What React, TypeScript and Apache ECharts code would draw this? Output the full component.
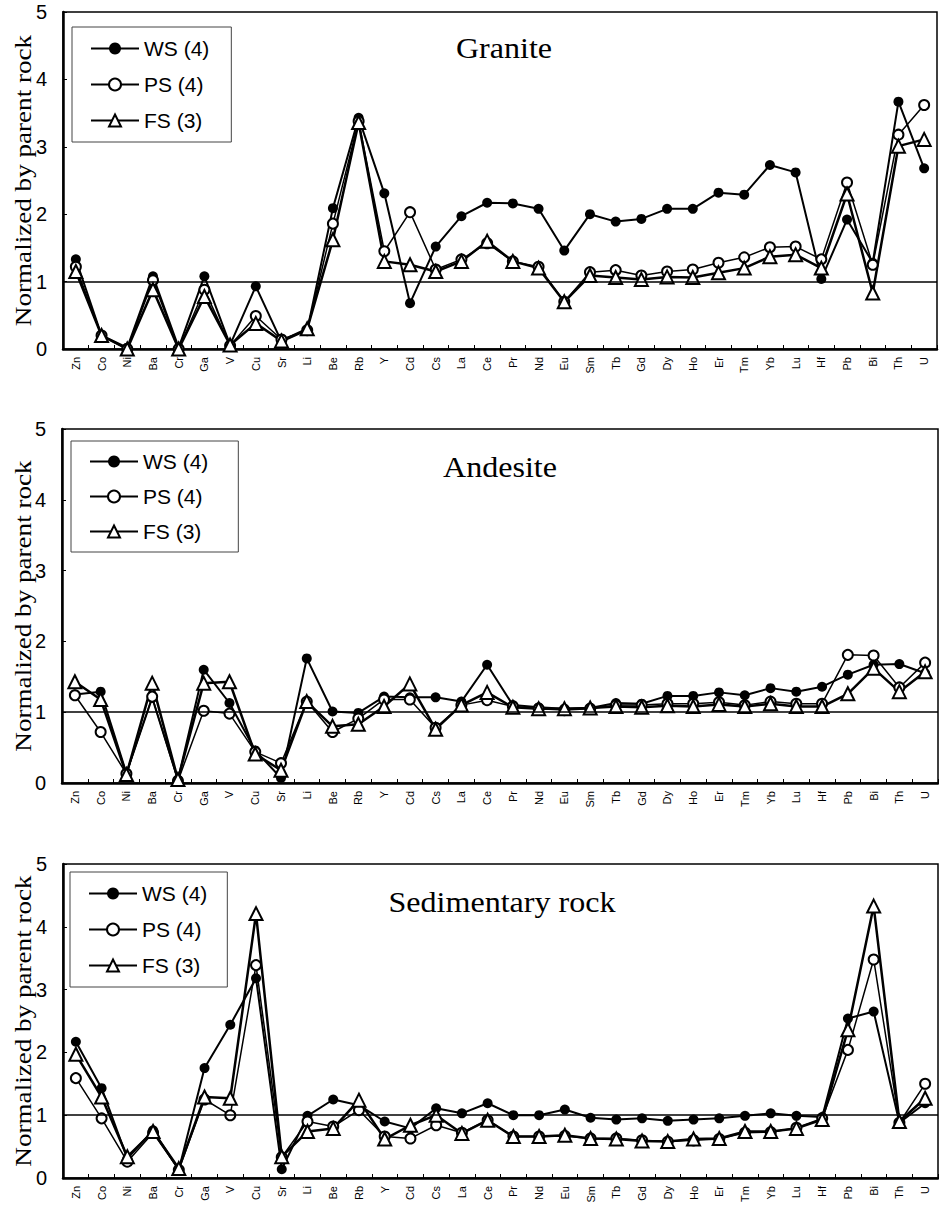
import React, { useEffect, useRef } from "react";
import * as echarts from "echarts";

const categories = ["Zn","Co","Ni","Ba","Cr","Ga","V","Cu","Sr","Li","Be","Rb","Y","Cd","Cs","La","Ce","Pr","Nd","Eu","Sm","Tb","Gd","Dy","Ho","Er","Tm","Yb","Lu","Hf","Pb","Bi","Th","U"];
const seriesNames = ["WS (4)", "PS (4)", "FS (3)"];
const yTicks = [0, 1, 2, 3, 4, 5];

const graniteWS = [1.33,0.2,0.02,1.08,0.02,1.08,0.06,0.93,0.11,0.28,2.09,3.43,2.31,0.68,1.52,1.97,2.17,2.16,2.08,1.46,2.0,1.89,1.93,2.08,2.08,2.32,2.29,2.73,2.62,1.04,1.92,1.28,3.67,2.68];
const granitePS = [1.22,0.2,0.0,1.02,0.0,0.88,0.05,0.49,0.14,0.28,1.86,3.38,1.45,2.03,1.18,1.33,1.57,1.3,1.22,0.7,1.14,1.17,1.09,1.15,1.18,1.28,1.36,1.51,1.52,1.33,2.47,1.25,3.18,3.62];
const graniteFS = [1.15,0.2,0.0,0.88,0.0,0.78,0.06,0.38,0.12,0.3,1.62,3.36,1.3,1.25,1.15,1.3,1.6,1.3,1.2,0.7,1.09,1.06,1.03,1.07,1.06,1.13,1.2,1.37,1.4,1.2,2.3,0.83,3.01,3.11];

const andesiteWS = [1.25,1.29,0.14,1.2,0.05,1.6,1.13,0.46,0.07,1.76,1.01,0.99,1.22,1.21,1.21,1.15,1.67,1.1,1.07,1.05,1.06,1.13,1.12,1.23,1.23,1.28,1.24,1.34,1.29,1.36,1.53,1.67,1.68,1.55];
const andesitePS = [1.24,0.72,0.13,1.22,0.03,1.02,0.98,0.44,0.28,1.15,0.72,0.91,1.18,1.18,0.78,1.1,1.17,1.08,1.05,1.03,1.05,1.1,1.1,1.12,1.12,1.14,1.1,1.15,1.12,1.12,1.81,1.8,1.35,1.7];
const andesiteFS = [1.43,1.18,0.12,1.41,0.05,1.41,1.43,0.41,0.18,1.15,0.8,0.83,1.08,1.4,0.76,1.1,1.28,1.07,1.05,1.05,1.06,1.08,1.07,1.09,1.08,1.11,1.08,1.12,1.08,1.08,1.26,1.62,1.29,1.57];

const sedimentWS = [2.17,1.43,0.31,0.76,0.13,1.75,2.44,3.18,0.14,0.99,1.25,1.16,0.9,0.79,1.11,1.03,1.19,1.0,1.0,1.09,0.96,0.93,0.95,0.91,0.93,0.95,0.99,1.03,0.99,0.97,2.54,2.65,0.88,1.19];
const sedimentPS = [1.59,0.95,0.26,0.72,0.13,1.25,1.0,3.39,0.33,0.9,0.82,1.08,0.66,0.63,0.84,0.72,0.92,0.66,0.66,0.67,0.63,0.63,0.6,0.58,0.6,0.62,0.72,0.73,0.8,0.95,2.04,3.48,0.88,1.5];
const sedimentFS = [1.97,1.29,0.34,0.74,0.15,1.29,1.27,4.21,0.34,0.74,0.79,1.24,0.62,0.84,1.0,0.71,0.92,0.66,0.66,0.68,0.63,0.62,0.59,0.58,0.62,0.63,0.74,0.74,0.79,0.93,2.36,4.33,0.9,1.27];

const titles = ["Granite", "Andesite", "Sedimentary rock"];
const yAxisTitle = "Normalized by parent rock";

const panelData = [
  [graniteWS, granitePS, graniteFS],
  [andesiteWS, andesitePS, andesiteFS],
  [sedimentWS, sedimentPS, sedimentFS],
];

const layout = [
  { left: 63, right: 2, top: 12, height: 337, titleX: 504, titleY: 48, legend: { left: 72, top: 27, pad: [11, 22, 11, 18], gap: 15 } },
  { left: 62, right: 1, top: 429, height: 354, titleX: 500, titleY: 467, legend: { left: 71, top: 441, pad: [10, 30, 10, 18], gap: 14 } },
  { left: 63, right: 1, top: 864, height: 314, titleX: 502, titleY: 902, legend: { left: 70, top: 872, pad: [11, 20, 11, 18], gap: 15 } },
];

const SANS = "'Liberation Sans', Arial, sans-serif";
const SERIF = "'Liberation Serif', 'Times New Roman', serif";

function buildOption() {
  const grid: any[] = [];
  const xAxis: any[] = [];
  const yAxis: any[] = [];
  const series: any[] = [];
  const legend: any[] = [];
  const graphic: any[] = [];

  layout.forEach((L, i) => {
    grid.push({
      left: L.left, right: L.right, top: L.top, height: L.height,
      show: true, borderColor: "#000", borderWidth: 1.5, backgroundColor: "transparent",
    });
    xAxis.push({
      type: "category", gridIndex: i, data: categories, boundaryGap: true,
      axisLine: { show: true, lineStyle: { color: "#000", width: 2.5 } },
      axisTick: { show: true, inside: true, length: 4, lineStyle: { color: "#000" } },
      axisLabel: { rotate: 90, interval: 0, fontSize: 11, margin: 8, color: "#000", fontFamily: SANS },
      splitLine: { show: false },
    });
    yAxis.push({
      type: "value", gridIndex: i, min: yTicks[0], max: yTicks[yTicks.length - 1], interval: 1,
      axisLine: { show: true, lineStyle: { color: "#000", width: 2.5 } },
      axisTick: { show: true, inside: true, length: 4, lineStyle: { color: "#000" } },
      axisLabel: { fontSize: 20, margin: 16, color: "#000", fontFamily: SANS },
      splitLine: { show: false },
    });
    const [ws, ps, fs] = panelData[i];
    series.push({
      name: seriesNames[0], type: "line", xAxisIndex: i, yAxisIndex: i, data: ws,
      symbol: "circle", symbolSize: 10, lineStyle: { color: "#000", width: 2 },
      itemStyle: { color: "#000" },
      markLine: {
        silent: true, symbol: "none", label: { show: false },
        lineStyle: { color: "#000", width: 1.5, type: "solid" },
        data: [{ yAxis: 1 }],
      },
    });
    series.push({
      name: seriesNames[1], type: "line", xAxisIndex: i, yAxisIndex: i, data: ps,
      symbol: "emptyCircle", symbolSize: 10, lineStyle: { color: "#000", width: 1.5 },
      itemStyle: { color: "#000", borderWidth: 1.5 },
    });
    series.push({
      name: seriesNames[2], type: "line", xAxisIndex: i, yAxisIndex: i, data: fs,
      symbol: "emptyTriangle", symbolSize: 13, lineStyle: { color: "#000", width: 2.5 },
      itemStyle: { color: "#000", borderWidth: 2 },
    });
    legend.push({
      data: seriesNames, orient: "vertical", left: L.legend.left, top: L.legend.top,
      padding: L.legend.pad, itemGap: L.legend.gap, itemWidth: 48, itemHeight: 15,
      borderColor: "#444", borderWidth: 1, backgroundColor: "#fff",
      selectedMode: false,
      textStyle: { fontSize: 21, color: "#000", fontFamily: SANS },
    });
    graphic.push({
      type: "text", x: L.titleX, y: L.titleY, scaleX: 1.07, scaleY: 1,
      style: { text: titles[i], fontSize: 30, fontFamily: SERIF, fill: "#000", align: "center", verticalAlign: "middle" },
    });
    graphic.push({
      type: "text", x: 23, y: L.top + L.height / 2, rotation: Math.PI / 2, scaleX: 1.13, scaleY: 1,
      style: { text: yAxisTitle, fontSize: 24, fontFamily: SERIF, fill: "#000", align: "center", verticalAlign: "middle" },
    });
  });

  return { animation: false, backgroundColor: "#fff", grid, xAxis, yAxis, series, legend, graphic };
}

export default function App() {
  const ref = useRef<HTMLDivElement>(null);
  useEffect(() => {
    if (!ref.current) return;
    const chart = echarts.init(ref.current, null, { renderer: "svg" });
    chart.setOption(buildOption());
    return () => chart.dispose();
  }, []);
  return (
    <div
      ref={ref}
      style={{ position: "absolute", left: 0, top: 0, width: 939, height: 1206, background: "#fff" }}
    />
  );
}
